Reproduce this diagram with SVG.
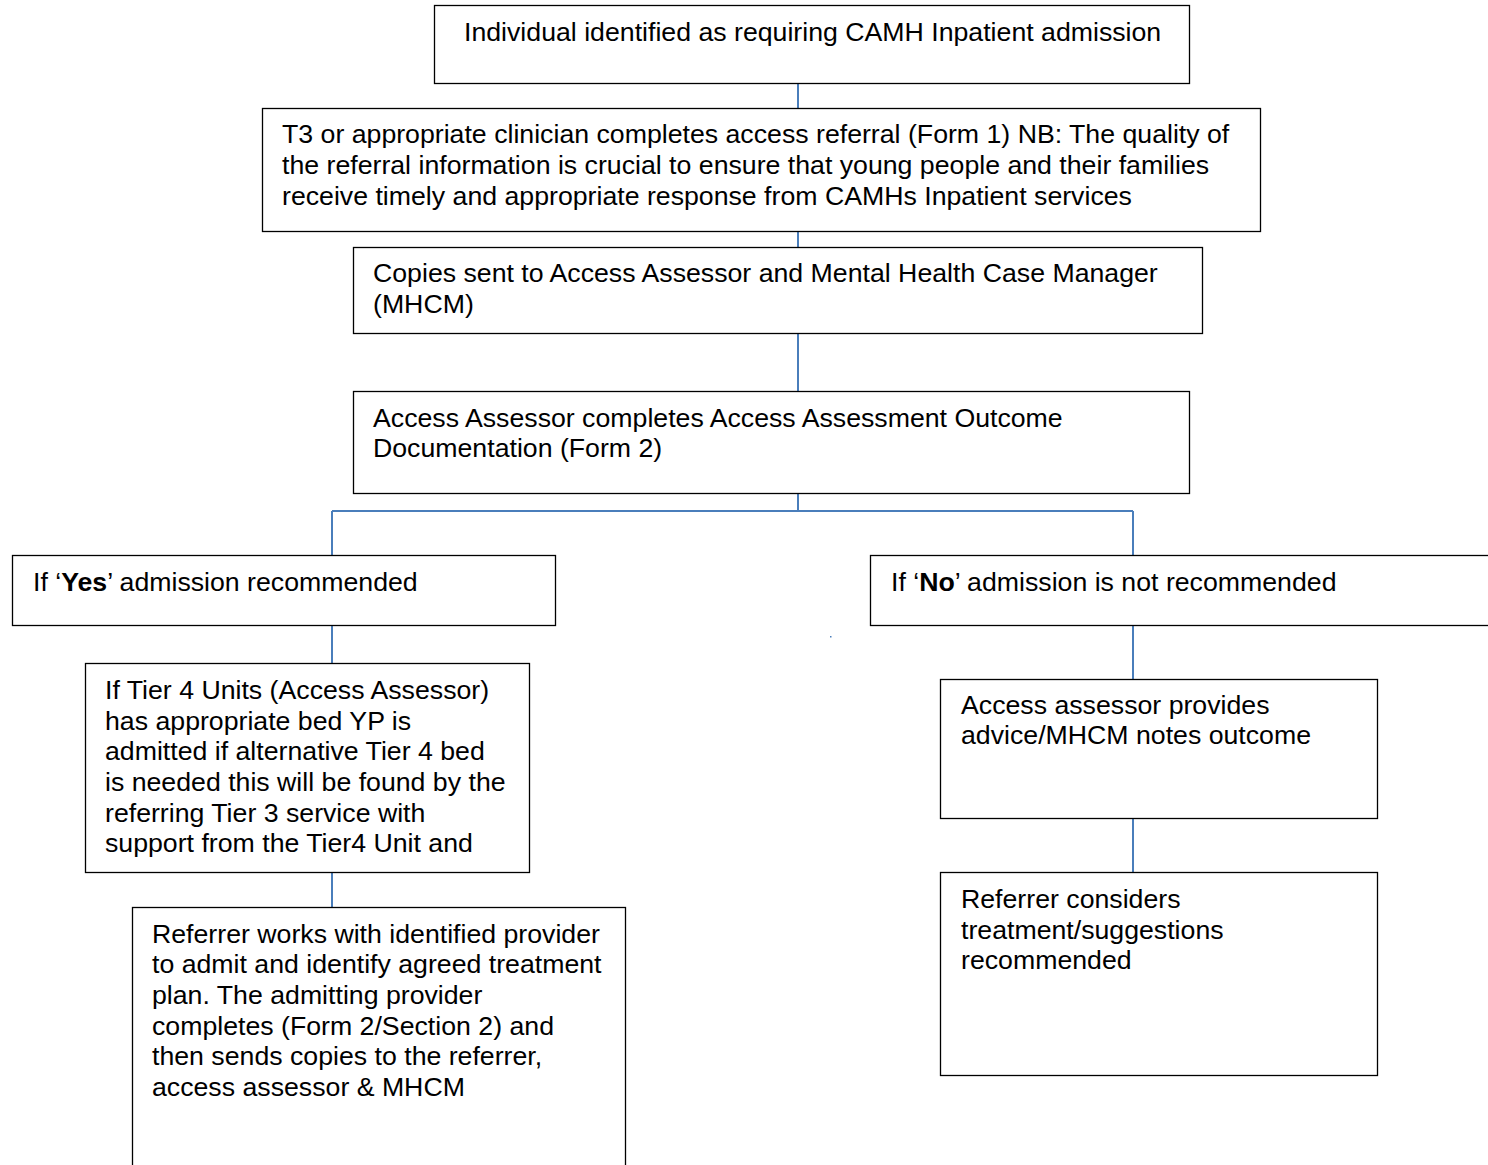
<svg xmlns="http://www.w3.org/2000/svg" width="1488" height="1165" viewBox="0 0 1488 1165">
<style>
.box{fill:#fff;stroke:#000;stroke-width:1.3}
.t{font-family:"Liberation Sans",Arial,sans-serif;font-size:26.7px;fill:#000}
.c{fill:none;stroke:#4a7ebb;stroke-width:2}
</style>
<rect width="1488" height="1165" fill="#fff"/>
<g id="connectors">
<path class="c" d="M798 83V108M798 232V247M798 334V391M798 494V511M332 511H1133M332 511V555M1133 511V555M332 626V663M332 873V907M1133 626V679M1133 819V872"/>
<rect x="830" y="636" width="1.5" height="1.5" fill="#4a7ebb"/>
</g>
<g id="n1"><rect class="box" x="434.5" y="5.5" width="755" height="78"/>
<text class="t" x="464" y="41">Individual identified as requiring CAMH Inpatient admission</text></g>
<g id="n2"><rect class="box" x="262.5" y="108.5" width="998" height="123"/>
<text class="t" x="282" y="143">T3 or appropriate clinician completes access referral (Form 1) NB: The quality of</text>
<text class="t" x="282" y="174">the referral information is crucial to ensure that young people and their families</text>
<text class="t" x="282" y="205">receive timely and appropriate response from CAMHs Inpatient services</text></g>
<g id="n3"><rect class="box" x="353.5" y="247.5" width="849" height="86"/>
<text class="t" x="373" y="282">Copies sent to Access Assessor and Mental Health Case Manager</text>
<text class="t" x="373" y="313">(MHCM)</text></g>
<g id="n4"><rect class="box" x="353.5" y="391.5" width="836" height="102"/>
<text class="t" x="373" y="427">Access Assessor completes Access Assessment Outcome</text>
<text class="t" x="373" y="457">Documentation (Form 2)</text></g>
<g id="n5"><rect class="box" x="12.5" y="555.5" width="543" height="70"/>
<text class="t" x="33" y="591">If ‘<tspan font-weight="bold">Yes</tspan>’ admission recommended</text></g>
<g id="n6"><rect class="box" x="870.5" y="555.5" width="640" height="70"/>
<text class="t" x="891" y="591">If ‘<tspan font-weight="bold">No</tspan>’ admission is not recommended</text></g>
<g id="n7"><rect class="box" x="85.5" y="663.5" width="444" height="209"/>
<text class="t" x="105" y="699">If Tier 4 Units (Access Assessor)</text>
<text class="t" x="105" y="730">has appropriate bed YP is</text>
<text class="t" x="105" y="760">admitted if alternative Tier 4 bed</text>
<text class="t" x="105" y="791">is needed this will be found by the</text>
<text class="t" x="105" y="822">referring Tier 3 service with</text>
<text class="t" x="105" y="852">support from the Tier4 Unit and</text></g>
<g id="n8"><rect class="box" x="132.5" y="907.5" width="493" height="280"/>
<text class="t" x="152" y="943">Referrer works with identified provider</text>
<text class="t" x="152" y="973">to admit and identify agreed treatment</text>
<text class="t" x="152" y="1004">plan. The admitting provider</text>
<text class="t" x="152" y="1035">completes (Form 2/Section 2) and</text>
<text class="t" x="152" y="1065">then sends copies to the referrer,</text>
<text class="t" x="152" y="1096">access assessor &amp; MHCM</text></g>
<g id="n9"><rect class="box" x="940.5" y="679.5" width="437" height="139"/>
<text class="t" x="961" y="714">Access assessor provides</text>
<text class="t" x="961" y="744">advice/MHCM notes outcome</text></g>
<g id="n10"><rect class="box" x="940.5" y="872.5" width="437" height="203"/>
<text class="t" x="961" y="908">Referrer considers</text>
<text class="t" x="961" y="939">treatment/suggestions</text>
<text class="t" x="961" y="969">recommended</text></g>
</svg>
